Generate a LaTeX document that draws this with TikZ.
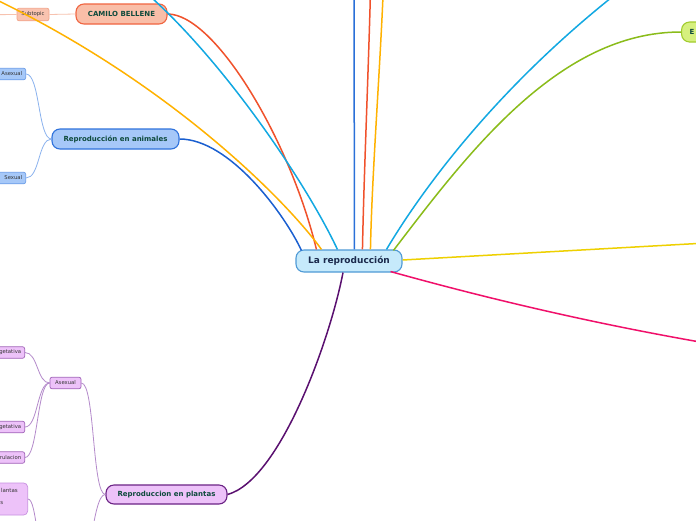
\documentclass[tikz,border=0pt]{standalone}
\usepackage{fontspec}
\setmainfont{DejaVu Sans}
\usetikzlibrary{calc}
\definecolor{cfill}{HTML}{C6EAFB}
\definecolor{cdraw}{HTML}{4F9AD6}
\definecolor{ctext}{HTML}{1A2A4C}
\definecolor{txtgreen}{HTML}{0E4A3C}
\definecolor{txtgray}{HTML}{333333}
\definecolor{camfill}{HTML}{F9BEA8}
\definecolor{camdraw}{HTML}{F06440}
\definecolor{subfill}{HTML}{F9C3B0}
\definecolor{subdraw}{HTML}{F2A48A}
\definecolor{sublinec}{HTML}{F7C2AF}
\definecolor{anfill}{HTML}{A6C8F8}
\definecolor{andraw}{HTML}{2F72DC}
\definecolor{asdraw}{HTML}{6A9CE8}
\definecolor{anlinec}{HTML}{8AB2EE}
\definecolor{plfill}{HTML}{EDC2F9}
\definecolor{pldraw}{HTML}{6B2385}
\definecolor{psdraw}{HTML}{A062B8}
\definecolor{pllinec}{HTML}{B48ACB}
\definecolor{pbdraw}{HTML}{C890E0}
\definecolor{efill}{HTML}{D6F07E}
\definecolor{edraw}{HTML}{A2CC2E}
\definecolor{cdarkblue}{HTML}{1A5FD0}
\definecolor{cred}{HTML}{F0522C}
\definecolor{corange}{HTML}{FFB200}
\definecolor{clblue}{HTML}{12A8E2}
\definecolor{cvblue}{HTML}{2A70D8}
\definecolor{cgreen}{HTML}{8ABC1A}
\definecolor{cyellow}{HTML}{EED000}
\definecolor{cpink}{HTML}{F0106A}
\definecolor{cpurple}{HTML}{5A1070}
\tikzset{
  centralbox/.style={rectangle, rounded corners=8pt, line width=1.1pt, inner sep=0pt,
    fill=cfill, draw=cdraw, text=ctext, font=\fontsize{9}{10}\selectfont\bfseries},
  mainbox/.style={rectangle, rounded corners=8pt, line width=1.1pt, inner sep=0pt,
    text=txtgreen, font=\fontsize{7}{8}\selectfont\bfseries},
  smallbox/.style={rectangle, rounded corners=2pt, line width=0.7pt, inner sep=0pt,
    minimum height=11.5pt, text=txtgray, font=\fontsize{5.3}{6}\selectfont},
  cutbox/.style={smallbox, anchor=east, text width=44pt, inner xsep=3.5pt, align=right},
  smalltext/.style={inner sep=0pt, text=txtgray, font=\fontsize{5.5}{6}\selectfont},
  mainline/.style={line width=1.5pt},
  subline/.style={line width=0.8pt},
}
\begin{document}
\begin{tikzpicture}[x=1pt, y=-1pt]
\useasboundingbox (0,0) rectangle (696,520);
\fill[white] (0,0) rectangle (696,520);
\clip (0,0) rectangle (696,520);

% off-canvas ends
\coordinate (offY) at (-20,-8);
\coordinate (offLB) at (110,-35);
\coordinate (offV1) at (354,-30);
\coordinate (offV2) at (371,-30);
\coordinate (offV3) at (384,-30);
\coordinate (offR1) at (650,-32);
\coordinate (offR2) at (760,240);
\coordinate (offR3) at (760,352);
\coordinate (subkid) at (-40,15);
\coordinate (psex) at (80,560);
\coordinate (pbpar) at (46,560);

% nodes
\node[centralbox, minimum width=106pt, minimum height=22pt] (c) at (349,261) {La reproducción};
\node[mainbox, fill=camfill, draw=camdraw, minimum width=91pt, minimum height=20pt] (cam) at (121.5,14) {CAMILO BELLENE};
\node[smallbox, fill=subfill, draw=subdraw, minimum width=32pt, minimum height=12.5pt] (sub) at (33,14.5) {Subtopic};
\node[mainbox, fill=anfill, draw=andraw, minimum width=127pt, minimum height=20pt] (an) at (115.5,139) {Reproducción en animales};
\node[cutbox, fill=anfill, draw=asdraw] (aa) at (26,74) {Asexual};
\node[cutbox, fill=anfill, draw=asdraw] (as) at (26,178) {Sexual};
\node[mainbox, fill=plfill, draw=pldraw, minimum width=121pt, minimum height=19pt] (pl) at (166.5,494.5) {Reproduccion en plantas};
\node[smallbox, fill=plfill, draw=psdraw, minimum width=31pt] (pa) at (65.5,383) {Asexual};
\node[cutbox, fill=plfill, draw=psdraw] (pv1) at (25,352.5) {getativa};
\node[cutbox, fill=plfill, draw=psdraw] (pv2) at (25,427) {getativa};
\node[cutbox, fill=plfill, draw=psdraw] (pv3) at (25,457.5) {rulacion};
\node[rectangle, rounded corners=4pt, fill=plfill, draw=pbdraw, line width=0.7pt, anchor=east,
      minimum width=68pt, minimum height=32pt] (pb) at (28,499) {};
\node[smalltext, anchor=east] (pbt1) at (18,490) {lantas};
\node[smalltext, anchor=east] (pbt2) at (3.5,503) {s};
\node[mainbox, fill=efill, draw=edraw, anchor=west, text width=30pt, inner xsep=8pt,
      align=left, minimum height=20pt] (en) at (681,32) {E};

% main connectors
\draw[mainline, cdarkblue] (an.east) .. controls (230,139) and (285,215) .. ($(c.north west)+(6,1)$);
\draw[mainline, cred] (cam.east) .. controls (215,14) and (290,140) .. ($(c.north west)+(21,0)$);
\draw[mainline, corange] (offY) .. controls (170,80) and (290,205) .. ($(c.north west)+(26,0)$);
\draw[mainline, clblue] (offLB) .. controls (195,20) and (300,170) .. ($(c.north west)+(42,0)$);
\draw[mainline, cvblue] ($(c.north west)+(59,0)$) -- (offV1);
\draw[mainline, cred] ($(c.north west)+(67,0)$) .. controls (364,170) and (369,60) .. (offV2);
\draw[mainline, corange] ($(c.north west)+(75,0)$) .. controls (372,170) and (381,60) .. (offV3);
\draw[mainline, clblue] ($(c.north west)+(91,0)$) .. controls (410,210) and (490,85) .. (offR1);
\draw[mainline, cgreen] ($(c.north west)+(98,1)$) .. controls (470,150) and (560,32) .. (en.west);
\draw[mainline, cyellow] ($(c.east)+(0,-1)$) -- (offR2);
\draw[mainline, cpink] ($(c.south east)+(-12,-1)$) .. controls (500,302) and (620,330) .. (offR3);
\draw[mainline, cpurple] ($(c.south)+(-6,0)$) .. controls (330,340) and (280,480) .. (pl.east);

% sub connectors
\draw[subline, sublinec] (sub.east) -- (cam.west);
\draw[subline, sublinec] (sub.west) -- (subkid);
\draw[subline, anlinec] (an.west) .. controls (38,139) and (40,74) .. (aa.east);
\draw[subline, anlinec] (an.west) .. controls (38,139) and (40,178) .. (as.east);
\draw[subline, pllinec] (pl.west) .. controls (92,494.5) and (95,383) .. (pa.east);
\draw[subline, pllinec] (pl.west) .. controls (93,494.5) and (93,560) .. (psex);
\draw[subline, pllinec] (pa.west) .. controls (37,383) and (38,352.5) .. (pv1.east);
\draw[subline, pllinec] (pa.west) .. controls (37,383) and (38,427) .. (pv2.east);
\draw[subline, pllinec] (pa.west) .. controls (37,383) and (38,457.5) .. (pv3.east);
\draw[subline, pllinec] (pb.east) .. controls (37,499) and (37,560) .. (pbpar);
\end{tikzpicture}
\end{document}
